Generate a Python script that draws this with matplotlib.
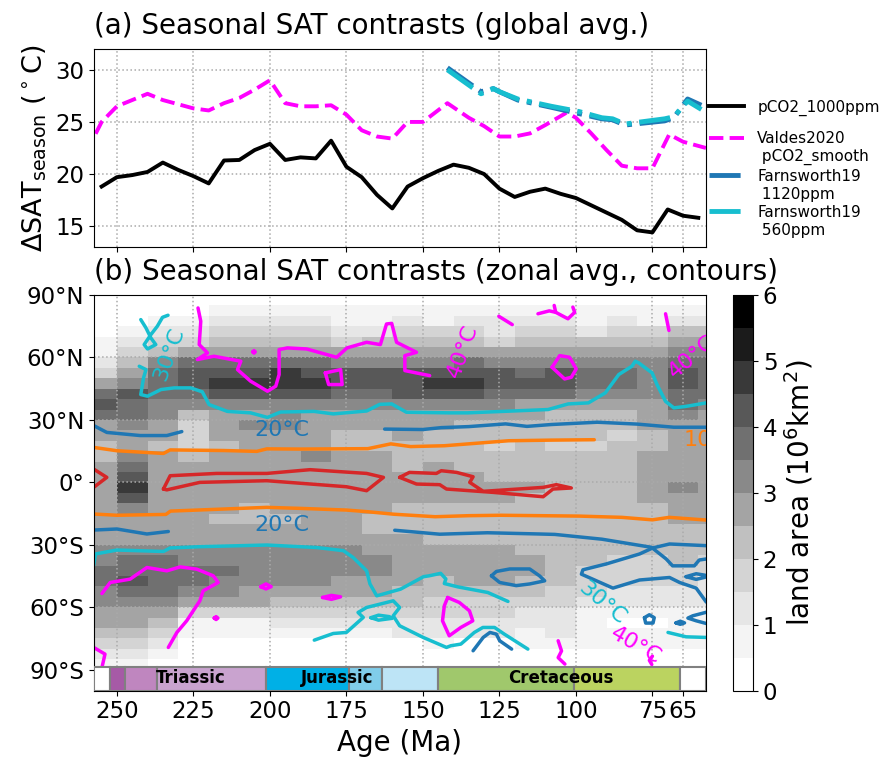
import numpy as np
import matplotlib
matplotlib.use('Agg')
import matplotlib.pyplot as plt
from matplotlib.patches import Rectangle
from matplotlib.lines import Line2D

# ---------------- (a) global mean seasonal contrast ----------------
age_model = [255, 250, 245, 240, 235, 230, 225, 220, 215, 210, 205, 200, 195, 190,
             185, 180, 175, 170, 165, 160, 155, 150, 145, 140, 135, 130, 125, 120,
             115, 110, 105, 100, 95, 90, 85, 80, 75, 70, 65, 60]
sat_model = [18.8, 19.7, 19.9, 20.2, 21.1, 20.4, 19.8, 19.1, 21.3, 21.35, 22.3, 22.9,
             21.35, 21.6, 21.5, 23.2, 20.7, 19.7, 18.0, 16.7, 18.8, 19.6, 20.3, 20.9,
             20.6, 20.0, 18.6, 17.8, 18.3, 18.6, 18.1, 17.7, 17.0, 16.3, 15.6, 14.6,
             14.4, 16.6, 16.0, 15.8]

age_valdes = [260, 255, 250, 245, 240, 235, 230, 225, 220, 215, 210, 205, 200, 195,
              190, 185, 180, 175, 170, 165, 160, 155, 150, 142, 135, 130, 125, 120,
              115, 110, 103, 100, 95, 90, 85, 80, 75, 69.5, 65, 57.5]
sat_valdes = [22.1, 25.0, 26.5, 27.1, 27.7, 27.1, 26.7, 26.3, 26.1, 26.8, 27.3, 28.1,
              29.0, 26.8, 26.5, 26.5, 26.6, 25.7, 24.2, 23.6, 23.4, 25.0, 25.0, 26.8,
              25.4, 24.6, 23.6, 23.6, 23.9, 24.7, 25.9, 25.4, 23.9, 22.3, 20.8, 20.55,
              20.55, 23.8, 23.1, 22.5]

age_farn = [142, 131, 127, 125, 119, 108, 99, 91.5, 88, 84, 71, 68, 63.5, 59]
sat_farn1120 = [30.2, 27.9, 28.2, 27.9, 27.1, 26.4, 25.8, 25.3, 25.2, 24.7, 25.1, 25.4, 27.2, 26.6]
sat_farn560 = [30.0, 27.7, 28.2, 27.9, 27.2, 26.5, 26.0, 25.4, 25.3, 24.8, 25.3, 25.5, 27.0, 26.2]

# ---------------- (b) zonal land area (10^6 km^2) ----------------
age_edges = np.arange(260, 45, -10)          # 21 bins, centres 255 ... 55 Ma
lat_edges = np.arange(90, -95, -5)           # 36 bands, north to south
land_area = [
    # 255  245  235  225  215  205  195  185  175  165  155  145  135  125  115  105   95   85   75   65   55
    [0.1, 0.1, 0.1, 0.2, 0.2, 0.2, 0.2, 0.2, 0.2, 0.2, 0.2, 0.3, 0.3, 0.3, 0.3, 0.3, 0.3, 0.3, 0.3, 0.3, 0.3],  # 90-85N
    [0.2, 0.2, 0.3, 0.4, 0.5, 0.5, 0.5, 0.5, 0.5, 0.5, 0.6, 0.7, 0.7, 0.7, 0.7, 0.7, 0.7, 0.7, 0.7, 0.8, 0.8],  # 85-80N
    [0.3, 0.4, 0.7, 0.9, 1.1, 1.2, 1.4, 1.2, 0.9, 0.9, 1.2, 0.9, 1.1, 1.1, 1.1, 1.2, 0.9, 1.1, 0.9, 1.4, 1.4],  # 80-75N
    [0.4, 0.9, 1.4, 1.4, 1.7, 1.7, 1.9, 1.7, 1.4, 1.4, 1.9, 1.7, 1.7, 1.4, 1.7, 1.7, 1.4, 1.7, 1.7, 2.1, 2.1],  # 75-70N
    [0.7, 1.4, 1.9, 1.9, 2.2, 2.2, 2.2, 2.1, 1.9, 2.2, 2.2, 2.2, 2.2, 1.9, 2.2, 2.2, 2.1, 2.2, 2.2, 2.7, 2.5],  # 70-65N
    [0.9, 1.9, 2.2, 2.7, 2.7, 2.7, 2.9, 2.7, 2.5, 2.7, 2.7, 2.7, 2.7, 2.5, 2.5, 2.7, 2.5, 2.5, 2.7, 3.3, 3.0],  # 65-60N
    [1.4, 2.2, 3.0, 3.5, 3.5, 3.5, 3.7, 3.5, 3.3, 3.0, 3.3, 3.3, 3.5, 3.3, 3.0, 3.3, 3.0, 3.0, 3.0, 3.7, 3.5],  # 60-55N
    [1.9, 2.7, 3.5, 4.0, 4.3, 4.3, 4.5, 4.3, 4.0, 4.0, 4.0, 4.3, 4.3, 4.0, 3.8, 4.0, 3.5, 3.5, 3.3, 4.0, 3.7],  # 55-50N
    [2.7, 3.0, 3.5, 4.0, 4.5, 4.5, 4.7, 4.5, 4.3, 4.0, 4.3, 4.5, 4.5, 4.3, 4.0, 4.0, 3.7, 3.5, 3.3, 4.0, 3.8],  # 50-45N
    [3.5, 4.0, 3.5, 3.5, 4.0, 4.0, 4.3, 4.0, 3.8, 3.5, 4.0, 4.0, 4.0, 3.5, 3.5, 3.5, 3.3, 3.0, 3.0, 3.8, 3.5],  # 45-40N
    [4.0, 3.7, 3.3, 3.0, 3.0, 3.0, 3.3, 3.0, 3.0, 3.0, 3.3, 3.0, 3.0, 3.0, 2.9, 2.9, 2.9, 2.7, 2.9, 3.5, 3.3],  # 40-35N
    [3.5, 3.5, 3.0, 2.2, 2.7, 2.9, 3.0, 2.9, 2.7, 2.7, 2.9, 2.7, 2.7, 2.7, 2.5, 2.2, 2.2, 2.2, 2.5, 3.0, 2.9],  # 35-30N
    [2.7, 3.0, 2.7, 1.9, 2.9, 3.0, 3.0, 2.7, 2.7, 2.5, 2.7, 2.5, 2.2, 2.2, 2.2, 2.2, 2.1, 2.1, 2.5, 2.9, 2.7],  # 30-25N
    [2.5, 2.7, 2.5, 1.7, 2.5, 2.7, 2.7, 2.5, 2.2, 2.2, 2.5, 2.2, 2.0, 2.0, 2.1, 2.0, 2.0, 1.9, 2.2, 2.7, 2.5],  # 25-20N
    [2.2, 2.7, 2.2, 1.9, 2.2, 2.5, 2.5, 2.5, 2.2, 2.1, 2.2, 2.2, 2.0, 1.9, 2.0, 1.9, 1.9, 2.0, 2.2, 2.5, 2.5],  # 20-15N
    [2.2, 3.0, 2.5, 2.2, 2.5, 2.7, 2.9, 3.0, 2.9, 2.5, 2.2, 2.2, 2.1, 2.0, 2.0, 2.0, 2.1, 2.2, 2.5, 2.7, 2.7],  # 15-10N
    [2.5, 3.5, 2.7, 2.5, 2.7, 2.7, 2.7, 2.9, 2.7, 2.5, 2.2, 2.5, 2.2, 2.1, 2.2, 2.1, 2.2, 2.2, 2.5, 2.7, 2.7],  # 10-5N
    [2.7, 4.0, 2.7, 2.5, 2.7, 2.5, 2.7, 2.7, 2.5, 2.7, 2.5, 2.7, 2.5, 2.2, 2.2, 2.2, 2.2, 2.1, 2.7, 2.9, 2.7],  # 5-0N
    [2.7, 4.5, 2.9, 2.7, 2.7, 2.7, 2.9, 2.7, 2.7, 2.9, 2.7, 2.7, 2.5, 2.5, 2.5, 2.2, 2.2, 2.2, 2.7, 3.0, 2.9],  # 0-5S
    [2.7, 4.0, 2.7, 2.7, 2.7, 2.7, 2.7, 2.7, 2.7, 2.7, 2.5, 2.5, 2.5, 2.5, 2.2, 2.2, 2.2, 2.2, 2.5, 2.9, 2.7],  # 5-10S
    [2.7, 3.3, 2.5, 2.5, 2.5, 2.2, 2.5, 2.5, 2.5, 2.5, 2.2, 2.2, 2.2, 2.2, 2.1, 2.1, 2.1, 2.2, 2.2, 2.7, 2.5],  # 10-15S
    [2.7, 2.7, 2.5, 2.5, 2.2, 2.2, 2.2, 2.5, 2.5, 2.2, 2.1, 2.1, 2.2, 2.2, 2.1, 2.1, 2.0, 2.1, 2.2, 2.5, 2.5],  # 15-20S
    [2.7, 2.7, 2.7, 2.5, 2.5, 2.5, 2.5, 2.5, 2.5, 2.2, 2.2, 2.2, 2.2, 2.1, 2.0, 2.0, 2.0, 2.0, 2.1, 2.2, 2.2],  # 20-25S
    [2.9, 2.9, 2.7, 2.7, 2.7, 2.7, 2.7, 2.7, 2.7, 2.5, 2.5, 2.2, 2.2, 2.2, 2.1, 2.1, 2.1, 2.1, 2.2, 2.2, 2.2],  # 25-30S
    [3.0, 3.0, 3.0, 3.0, 3.0, 3.0, 3.0, 3.0, 3.0, 2.7, 2.5, 2.5, 2.5, 2.5, 2.2, 2.2, 2.1, 2.0, 2.1, 2.2, 2.1],  # 30-35S
    [3.3, 3.5, 3.5, 3.3, 3.3, 3.3, 3.3, 3.3, 3.0, 3.0, 2.7, 2.7, 2.7, 2.7, 2.5, 2.2, 2.1, 1.9, 1.9, 2.0, 1.9],  # 35-40S
    [3.5, 3.8, 3.8, 3.5, 3.5, 3.3, 3.3, 3.0, 3.0, 3.0, 2.7, 2.5, 2.7, 2.7, 2.5, 2.2, 1.9, 1.7, 1.7, 1.9, 1.7],  # 40-45S
    [3.5, 4.0, 3.8, 3.5, 3.3, 3.0, 3.0, 3.0, 2.7, 2.7, 2.5, 2.2, 2.5, 2.5, 2.2, 2.1, 1.9, 1.7, 1.7, 1.7, 1.4],  # 45-50S
    [3.3, 3.5, 3.5, 3.0, 3.0, 2.9, 2.7, 2.7, 2.5, 2.5, 2.2, 2.1, 2.2, 2.1, 2.0, 1.9, 1.7, 1.4, 1.4, 1.4, 1.2],  # 50-55S
    [3.0, 3.3, 3.0, 2.7, 2.5, 2.5, 2.2, 2.2, 2.2, 2.1, 2.0, 1.9, 1.9, 1.9, 1.7, 1.7, 1.4, 1.1, 1.1, 1.1, 1.1],  # 55-60S
    [2.9, 2.9, 2.7, 1.9, 1.7, 1.7, 1.7, 1.7, 1.9, 1.9, 1.7, 1.7, 1.7, 1.7, 1.4, 1.4, 0.9, 0.7, 0.5, 0.7, 0.9],  # 60-65S
    [2.7, 2.7, 2.2, 0.9, 0.9, 0.9, 1.1, 1.2, 1.4, 1.4, 1.4, 1.4, 1.4, 1.4, 1.2, 1.2, 0.7, 0.3, 0.3, 0.5, 0.7],  # 65-70S
    [2.2, 2.2, 1.9, 0.7, 0.7, 0.7, 0.9, 0.9, 0.9, 0.9, 1.2, 1.1, 1.1, 1.1, 0.9, 1.1, 0.9, 0.7, 0.7, 0.9, 0.9],  # 70-75S
    [1.9, 1.9, 1.4, 0.3, 0.3, 0.3, 0.4, 0.2, 0.2, 0.4, 0.4, 0.7, 0.4, 0.4, 0.7, 0.7, 0.7, 0.7, 0.7, 0.9, 0.7],  # 75-80S
    [1.4, 1.4, 0.9, 0.0, 0.0, 0.0, 0.0, 0.0, 0.0, 0.2, 0.3, 0.3, 0.0, 0.0, 0.3, 0.4, 0.4, 0.4, 0.4, 0.4, 0.4],  # 80-85S
    [0.9, 0.9, 0.4, 0.0, 0.0, 0.0, 0.0, 0.0, 0.0, 0.0, 0.2, 0.2, 0.0, 0.0, 0.2, 0.3, 0.3, 0.3, 0.3, 0.3, 0.3],  # 85-90S
]

# seasonal SAT contrast isotherms, (age Ma, latitude) along each contour piece
iso05 = [
    [(257.6, 6.4), (253.3, 2.4), (257.6, -2.4)],
    [(234.8, -3.2), (232.6, 3.2), (217.4, 4.3), (201.0, 4.3), (186.9, 6.1), (168.4, 4.3),
     (162.9, 2.4), (168.4, -4.0), (175.0, -2.1), (201.0, 0.8), (222.9, 0.0), (233.7, -3.6),
     (234.8, -3.2)],
    [(157.6, 2.4), (154.4, 4.8), (145.6, 4.3), (144.0, 5.6), (139.0, 4.8), (133.6, 2.7),
     (134.7, 0.0), (130.3, -4.3), (110.7, -2.4), (106.4, -1.1), (101.5, -2.7), (107.5, -3.2),
     (110.7, -6.9), (127.1, -4.8), (142.3, -3.2), (144.5, -1.1), (152.1, -0.8), (157.6, 2.4)],
]
iso10 = [
    [(257.6, 16.8), (250, 15.2), (234.8, 13.9), (232.6, 15.6), (215, 15.3), (204.3, 14.9),
     (201, 16.1), (190, 16.0), (168, 16.2), (160.5, 18.5), (154, 17.2), (143, 17.6),
     (122, 20.0), (108, 20.3), (94, 20.5)],
    [(257.6, -15.2), (250, -15.8), (234, -15.4), (232.5, -13.8), (215, -12.8), (201, -12.0),
     (190, -12.5), (175, -13.3), (168, -14.1), (159.5, -15.3), (146, -16.5), (135, -16.0),
     (124.5, -15.8), (99, -16.2), (85, -16.8), (75, -18.0), (69.5, -16.8), (57.4, -18.1)],
]
iso20 = [
    [(257.6, 27.3), (253.3, 24.0), (242.4, 22.5), (233.7, 22.5), (228.8, 24.4)],
    [(162.5, 25.6), (150, 25.4), (144, 26.3), (135, 26.8), (123, 28.1), (116, 26.9),
     (108, 27.8), (93, 28.9), (80, 28.0), (68, 26.5), (57.4, 26.5)],
    [(257.6, -22.9), (250, -22.4), (240.2, -24.8), (233.2, -23.6)],
    [(159.2, -23.0), (144.5, -24.9), (128.9, -24.2), (111.9, -24.8), (106.9, -25.0),
     (91.5, -27.3), (75.3, -31.2), (70.5, -36.8), (68.4, -40.1), (61.3, -40.1),
     (59.7, -37.3), (57.4, -36.8)],
    [(57.4, -30.4), (69.4, -29.6), (74.9, -31.5), (79.2, -34.4), (90.1, -39.2), (97.7, -42.0),
     (98.2, -44.1), (87.9, -50.8), (79.2, -46.9), (69.4, -45.7), (66.1, -48.1), (60.7, -50.8),
     (57.4, -57.5)],
    [(127.6, -44.9), (126.0, -42.8), (121.6, -41.6), (115.1, -41.6), (111.9, -44.9),
     (110.2, -47.3), (115.1, -48.8), (119.5, -49.6), (124.9, -48.1), (127.6, -44.9)],
    [(64.0, -45.3), (60.7, -43.9), (57.8, -44.6), (57.8, -45.6), (60.7, -46.6), (64.0, -45.3)],
    [(77.6, -65.0), (76.0, -63.6), (74.4, -65.0), (74.8, -67.6), (77.2, -67.6), (77.6, -65.0)],
    [(67.3, -67.5), (65.9, -66.7), (64.5, -67.5), (65.9, -68.2), (67.3, -67.5)],
    [(57.4, -62.4), (61.8, -64.1), (63.4, -65.2), (60.7, -66.5), (57.4, -67.8)],
    [(133.6, -80.9), (130.3, -74.5), (128.1, -72.1), (126.0, -72.9), (124.9, -76.1), (121.0, -80.1)],
]
iso30 = [
    [(242.7, 55.8), (240.5, 54.2), (241.3, 50.2), (242.2, 42.2), (240.0, 41.4), (235.6, 44.6),
     (231.3, 45.4), (225.9, 45.4), (222.1, 43.5), (219.9, 37.4), (213.9, 34.1), (206.3, 33.4),
     (200.8, 31.2), (196.5, 33.8), (185.6, 34.1), (179.3, 32.9), (168.4, 34.3), (164.1, 37.5),
     (160.2, 37.7), (155.4, 33.7), (141.2, 33.4), (135.4, 33.4), (109.1, 35.0), (102.5, 37.7),
     (95.9, 38.2), (90.4, 43.0), (86.0, 51.8), (81.7, 55.8), (80.6, 58.2), (79.5, 57.4),
     (75.1, 52.6), (73.5, 47.0), (70.7, 38.9), (68.0, 35.8), (64.1, 36.5), (57.4, 38.2)],
    [(233.3, 80.3), (235.1, 79.3), (236.8, 75.0), (238.9, 71.0), (241.1, 66.2), (240.0, 64.1),
     (237.3, 66.2), (238.9, 69.4), (240.5, 74.2), (242.2, 78.2)],
    [(257.6, -40.0), (257.0, -34.4), (250, -32.5), (234.8, -33.2), (232.6, -31.5), (222.9, -30.9),
     (201, -30.1), (184.7, -31.3), (176, -32.8), (172.8, -36.1), (168.4, -42.5), (167.3, -48.8),
     (165.1, -54.5), (157.3, -51.3), (149.8, -45.3), (148.0, -44.9), (144.2, -43.7),
     (142.5, -46.4), (143.0, -48.6), (138.6, -50.2), (128.8, -52.9), (122.2, -57.2)],
    [(185.5, -75.8), (179.3, -72.6), (175, -72.1), (169.5, -64.9), (171.2, -62.5), (168.4, -60.1),
     (159.7, -56.9), (157.6, -60.1), (159.7, -64.1), (157.6, -68.9), (149.9, -74.5),
     (142.3, -79.3), (140.9, -78.5), (137.6, -77.7), (133.2, -72.1), (130.4, -69.7),
     (126.6, -69.7), (123.4, -72.9), (115.7, -80.1)],
    [(167.0, -65.0), (164.5, -63.8), (161.0, -64.5), (160.0, -65.3), (164.5, -66.2), (167.0, -65.0)],
    [(69.9, -72.1), (64.0, -74.2), (57.4, -74.5)],
]
iso40 = [
    [(223.5, 83.8), (222.6, 77.4), (223.1, 66.2), (220.4, 62.2), (223.7, 59.0), (218.3, 60.6),
     (209.5, 58.2), (210.6, 54.2), (206.3, 48.6), (200.8, 43.8), (198.1, 46.2), (197.0, 51.8),
     (197.0, 63.8), (194.3, 64.6), (188.0, 64.1), (178.2, 60.1), (174.8, 64.6), (168.4, 67.3),
     (163.9, 66.2), (161.9, 76.1), (160.2, 76.4), (158.6, 67.3), (152.1, 62.5), (155.9, 60.9),
     (155.9, 53.7), (147.8, 51.3)],
    [(181.9, 52.6), (176.9, 54.2), (176.4, 47.0), (180.8, 47.0), (181.9, 52.6)],
    [(205.6, 62.7), (205.2, 63.3), (204.8, 62.7), (205.2, 62.1), (205.6, 62.7)],
    [(125.2, 79.8), (120.8, 75.8)],
    [(112.4, 81.0), (108.7, 82.4), (106.6, 81.7), (102.6, 78.6), (100.4, 81.7), (101.0, 84.2)],
    [(107.1, 85.0), (106.6, 81.7)],
    [(107.8, 55.3), (105.3, 60.9), (102.1, 60.1), (99.9, 54.5), (101.5, 50.5), (103.7, 49.7),
     (107.8, 55.3)],
    [(70.7, 81.0), (69.6, 73.0)],
    [(254.9, -53.4), (252.2, -48.1), (245.7, -46.5), (240.2, -40.9), (233.7, -42.5),
     (229.3, -40.6), (223.9, -41.7), (218.5, -44.9), (216.9, -48.1), (221.8, -52.1),
     (222.9, -56.9), (227.2, -66.5), (230.4, -72.1), (233.2, -79.3)],
    [(218.2, -65.2), (217.6, -64.5), (217.0, -65.2), (217.6, -65.9), (218.2, -65.2)],
    [(203.0, -50.1), (201.3, -48.8), (199.6, -50.1), (201.3, -51.2), (203.0, -50.1)],
    [(182.8, -55.3), (179.9, -54.3), (176.9, -55.0), (179.9, -56.2), (182.8, -55.3)],
    [(257.6, -79.3), (253.9, -82.5), (254.9, -89.0)],
    [(141.9, -55.3), (138.1, -57.7), (134.8, -61.7), (133.7, -66.5), (137.6, -69.7),
     (141.4, -73.7), (143.6, -66.5), (143.0, -59.3), (141.9, -55.3)],
    [(105.8, -76.1), (104.7, -81.0), (105.8, -84.2), (103.6, -87.3)],
    [(75.0, -83.5), (76.0, -85.5), (75.2, -87.5)],
]

# inline isotherm labels: text, age, lat, rotation, colour
iso_labels = [
    ('20°C', 196.0, 25.3, 0, 'tab:blue'),
    ('20°C', 196.0, -20.3, 0, 'tab:blue'),
    ('30°C', 233.0, 61.5, 70, 'tab:cyan'),
    ('30°C', 91.5, -58.0, -40, 'tab:cyan'),
    ('40°C', 137.0, 63.0, 70, 'magenta'),
    ('40°C', 80.5, -78.5, -30, 'magenta'),
]

# geological stages for the time bar
stage_bounds = [257.5, 252.17, 247.2, 237.0, 201.3, 174.1, 163.5, 145.0, 100.5, 66.0, 57.5]
stage_colors = ['white', '#a65aa6', '#bf86bf', '#c9a3cf', '#00b0e6', '#80cdea', '#bde4f6',
                '#a0c86c', '#bbd360', 'white']
period_names = ['Triassic', 'Jurassic', 'Cretaceous']
period_label_age = [226.0, 178.0, 105.0]

xticks = [250, 225, 200, 175, 150, 125, 100, 75, 65]
lat_ticks = [90, 60, 30, 0, -30, -60, -90]
lat_ticklabels = ['90°N', '60°N', '30°N', '0°', '30°S', '60°S', '90°S']

fig = plt.figure(figsize=(8.89, 7.63), dpi=100)
ax1 = fig.add_axes([0.1057, 0.6763, 0.6884, 0.2595])
ax2 = fig.add_axes([0.1057, 0.0950, 0.6884, 0.5183])
cax = fig.add_axes([0.8245, 0.0950, 0.0225, 0.5183])

# ---- panel (a)
l1, = ax1.plot(age_model, sat_model, color='k', lw=2.8)
l2, = ax1.plot(age_valdes, sat_valdes, color='magenta', lw=2.8, ls='--')
l3, = ax1.plot(age_farn, sat_farn1120, color='tab:blue', lw=3.5, ls='-.')
l4, = ax1.plot(age_farn, sat_farn560, color='tab:cyan', lw=3.5, ls='-.')
ax1.set_xlim(257.5, 57.5)
ax1.set_ylim(13, 32)
ax1.set_xticks(xticks)
ax1.set_yticks([15, 20, 25, 30])
ax1.tick_params(labelbottom=False, labelsize=16.5)
ax1.grid(True, ls=':', color='#aaaaaa', lw=1.1)
ax1.set_ylabel(r'$\Delta$SAT$_{\rm season}$ ($^\circ$C)', fontsize=19.5)
ax1.set_title('(a) Seasonal SAT contrasts (global avg.)', loc='left', fontsize=20, pad=11)

# legend: two-line labels written as a handle row plus a continuation row
leg_kw = dict(loc='upper left', frameon=False, fontsize=11, handlelength=2.3,
              handletextpad=0.85, borderaxespad=0.0, borderpad=0.2)
leg1 = ax1.legend([l1], ['pCO2_1000ppm'], bbox_to_anchor=(1.0, 0.76), **leg_kw)
ax1.add_artist(leg1)
blank = Line2D([], [], color='none')
ax1.legend([l2, blank, l3, blank, l4, blank],
           ['Valdes2020', ' pCO2_smooth', 'Farnsworth19', ' 1120ppm', 'Farnsworth19', ' 560ppm'],
           bbox_to_anchor=(1.0, 0.60), labelspacing=0.2, **leg_kw)

# ---- panel (b)
cmap = plt.get_cmap('Greys', 12)
pcm = ax2.pcolormesh(age_edges, lat_edges, np.array(land_area), cmap=cmap,
                     vmin=0, vmax=6, shading='flat')

for paths, col in [(iso05, 'tab:red'), (iso10, 'tab:orange'), (iso20, 'tab:blue'),
                   (iso30, 'tab:cyan'), (iso40, 'magenta')]:
    for path in paths:
        a, l = zip(*path)
        ax2.plot(a, l, color=col, lw=2.5, solid_capstyle='round', solid_joinstyle='round')

for txt, a, l, rot, col in iso_labels:
    ax2.text(a, l, txt, color=col, fontsize=16, rotation=rot, ha='center', va='center',
             rotation_mode='anchor')
# labels cut by the right-hand frame
ax2.text(64.8, 20.5, '10°C', color='tab:orange', fontsize=16, ha='left',
         va='center', clip_on=True)
ax2.text(68.8, 52.0, '40°C', color='magenta', fontsize=16, ha='left', va='center',
         rotation=40, rotation_mode='anchor', clip_on=True)

# geological time bar along the bottom
for i, col in enumerate(stage_colors):
    ax2.add_patch(Rectangle((stage_bounds[i], -100), stage_bounds[i + 1] - stage_bounds[i],
                            11.5, facecolor=col, edgecolor='grey', lw=1.5, zorder=3))
for name, a in zip(period_names, period_label_age):
    ax2.text(a, -94.2, name, fontsize=12, fontweight='bold', ha='center', va='center',
             zorder=4)

ax2.set_xlim(257.5, 57.5)
ax2.set_ylim(-100, 90)
ax2.set_xticks(xticks)
ax2.set_yticks(lat_ticks)
ax2.set_yticklabels(lat_ticklabels)
ax2.tick_params(labelsize=16.5)
ax2.grid(True, ls=':', color='#aaaaaa', lw=1.1)
ax2.set_xlabel('Age (Ma)', fontsize=20)
ax2.set_title('(b) Seasonal SAT contrasts (zonal avg., contours)', loc='left', fontsize=20,
              pad=10.5)

cb = fig.colorbar(pcm, cax=cax, ticks=range(7))
cb.ax.tick_params(labelsize=16.5)
cb.set_label('land area (10$^6$km$^2$)', fontsize=20)

fig.savefig('out.png', dpi=100)
